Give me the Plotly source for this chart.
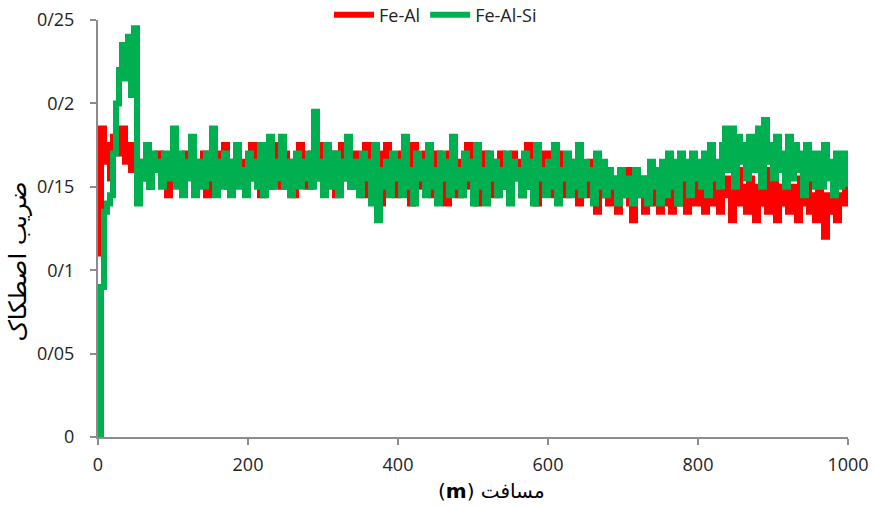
import plotly.graph_objects as go

# Sliding distance (m), sampled every 4 m
distance = [i * 4 for i in range(251)]

# Friction coefficient, Fe-Al
fe_al = [
    0.11, 0.185, 0.165, 0.175, 0.155, 0.18, 0.185, 0.17, 0.185, 0.165,
    0.175, 0.16, 0.175, 0.15, 0.165, 0.155, 0.17, 0.15, 0.165, 0.16,
    0.17, 0.155, 0.165, 0.145, 0.16, 0.175, 0.155, 0.165, 0.15, 0.17,
    0.16, 0.175, 0.15, 0.165, 0.155, 0.17, 0.145, 0.16, 0.165, 0.155,
    0.17, 0.16, 0.175, 0.15, 0.165, 0.16, 0.175, 0.155, 0.165, 0.15,
    0.16, 0.175, 0.155, 0.165, 0.145, 0.17, 0.16, 0.15, 0.175, 0.16,
    0.165, 0.15, 0.17, 0.155, 0.165, 0.145, 0.16, 0.175, 0.155, 0.165,
    0.15, 0.17, 0.16, 0.155, 0.175, 0.15, 0.165, 0.155, 0.17, 0.145,
    0.16, 0.175, 0.155, 0.165, 0.15, 0.17, 0.155, 0.165, 0.145, 0.175,
    0.155, 0.165, 0.15, 0.17, 0.14, 0.16, 0.175, 0.15, 0.165, 0.145,
    0.16, 0.17, 0.15, 0.165, 0.14, 0.175, 0.155, 0.165, 0.15, 0.17,
    0.155, 0.145, 0.165, 0.17, 0.15, 0.16, 0.14, 0.17, 0.155, 0.165,
    0.145, 0.165, 0.155, 0.175, 0.15, 0.16, 0.14, 0.165, 0.155, 0.17,
    0.15, 0.165, 0.145, 0.16, 0.17, 0.15, 0.16, 0.145, 0.17, 0.155,
    0.165, 0.145, 0.16, 0.175, 0.15, 0.16, 0.14, 0.165, 0.155, 0.17,
    0.15, 0.16, 0.145, 0.17, 0.155, 0.165, 0.145, 0.16, 0.15, 0.165,
    0.14, 0.155, 0.16, 0.145, 0.165, 0.15, 0.135, 0.155, 0.145, 0.16,
    0.14, 0.15, 0.155, 0.135, 0.15, 0.145, 0.16, 0.14, 0.13, 0.15,
    0.145, 0.155, 0.135, 0.15, 0.14, 0.16, 0.145, 0.135, 0.155, 0.14,
    0.15, 0.135, 0.155, 0.145, 0.14, 0.16, 0.135, 0.15, 0.14, 0.155,
    0.14, 0.15, 0.135, 0.16, 0.145, 0.14, 0.155, 0.135, 0.15, 0.145,
    0.155, 0.13, 0.145, 0.16, 0.14, 0.15, 0.135, 0.155, 0.145, 0.13,
    0.15, 0.14, 0.16, 0.135, 0.145, 0.155, 0.13, 0.15, 0.14, 0.16,
    0.135, 0.15, 0.145, 0.13, 0.155, 0.14, 0.16, 0.135, 0.145, 0.13,
    0.15, 0.14, 0.12, 0.145, 0.135, 0.155, 0.13, 0.145, 0.14, 0.15,
    0.145,
]

# Friction coefficient, Fe-Al-Si
fe_al_si = [
    0.0, 0.09, 0.135, 0.14, 0.145, 0.17, 0.2, 0.22, 0.235, 0.215,
    0.24, 0.205, 0.245, 0.14, 0.165, 0.155, 0.175, 0.15, 0.17, 0.16,
    0.165, 0.15, 0.17, 0.155, 0.16, 0.185, 0.15, 0.17, 0.145, 0.165,
    0.155, 0.18, 0.145, 0.165, 0.16, 0.15, 0.17, 0.155, 0.185, 0.145,
    0.165, 0.15, 0.17, 0.16, 0.145, 0.165, 0.175, 0.15, 0.16, 0.145,
    0.17, 0.155, 0.165, 0.15, 0.175, 0.145, 0.16, 0.18, 0.15, 0.165,
    0.155, 0.18, 0.15, 0.165, 0.145, 0.16, 0.17, 0.15, 0.165, 0.155,
    0.17, 0.15, 0.195, 0.155, 0.165, 0.145, 0.175, 0.15, 0.16, 0.17,
    0.145, 0.165, 0.155, 0.18, 0.15, 0.165, 0.16, 0.145, 0.17, 0.155,
    0.165, 0.14, 0.175, 0.13, 0.16, 0.15, 0.165, 0.145, 0.17, 0.155,
    0.165, 0.145, 0.18, 0.15, 0.16, 0.14, 0.17, 0.155, 0.165, 0.145,
    0.175, 0.15, 0.16, 0.14, 0.17, 0.155, 0.165, 0.145, 0.18, 0.15,
    0.16, 0.145, 0.17, 0.155, 0.165, 0.14, 0.175, 0.15, 0.16, 0.14,
    0.17, 0.155, 0.165, 0.145, 0.16, 0.15, 0.17, 0.14, 0.165, 0.155,
    0.16, 0.145, 0.17, 0.15, 0.165, 0.14, 0.175, 0.155, 0.16, 0.145,
    0.165, 0.15, 0.175, 0.14, 0.16, 0.155, 0.17, 0.145, 0.165, 0.15,
    0.175, 0.145, 0.165, 0.155, 0.16, 0.14, 0.17, 0.15, 0.165, 0.145,
    0.16, 0.15, 0.155, 0.14, 0.16, 0.15, 0.145, 0.155, 0.14, 0.16,
    0.15, 0.145, 0.155, 0.14, 0.165, 0.15, 0.16, 0.14, 0.165, 0.145,
    0.17, 0.15, 0.165, 0.14, 0.17, 0.155, 0.165, 0.145, 0.17, 0.155,
    0.165, 0.15, 0.17, 0.145, 0.175, 0.155, 0.165, 0.15, 0.175, 0.185,
    0.16, 0.185, 0.15, 0.18, 0.165, 0.175, 0.155, 0.18, 0.16, 0.17,
    0.185, 0.15, 0.19, 0.165, 0.175, 0.155, 0.18, 0.16, 0.17, 0.15,
    0.18, 0.155, 0.175, 0.16, 0.17, 0.145, 0.175, 0.155, 0.17, 0.15,
    0.17, 0.15, 0.175, 0.155, 0.165, 0.145, 0.17, 0.15, 0.165, 0.17,
    0.15,
]

y_ticks = [0, 0.05, 0.1, 0.15, 0.2, 0.25]
y_tick_labels = ["0", "0/05", "0/1", "0/15", "0/2", "0/25"]
x_ticks = [0, 200, 400, 600, 800, 1000]

font_family = "Open Sans, DejaVu Sans, sans-serif"

fig = go.Figure()
fig.add_trace(go.Scatter(
    x=distance, y=fe_al, name="Fe-Al", mode="lines",
    line=dict(color="#FF0000", width=6, shape="hv"),
))
fig.add_trace(go.Scatter(
    x=distance, y=fe_al_si, name="Fe-Al-Si", mode="lines",
    line=dict(color="#00B050", width=6, shape="hv"),
))

axis_common = dict(
    showgrid=False, zeroline=False, showline=True,
    linecolor="#8C8C8C", linewidth=2,
    ticks="outside", ticklen=6, tickwidth=2, tickcolor="#8C8C8C",
    tickfont=dict(family=font_family, size=18, color="#222"),
)

fig.update_xaxes(range=[0, 1000], tickvals=x_ticks, ticklabelstandoff=4,
                 **axis_common)
fig.update_yaxes(range=[0, 0.25], tickvals=y_ticks, ticktext=y_tick_labels,
                 ticklabelstandoff=12, **axis_common)

fig.update_layout(
    width=874, height=506,
    margin=dict(l=98, r=26, t=20, b=69, autoexpand=False),
    paper_bgcolor="white", plot_bgcolor="white",
    showlegend=True,
    legend=dict(orientation="h", x=0.45, xanchor="center", y=1.012,
                yanchor="middle", bgcolor="rgba(0,0,0,0)",
                font=dict(family=font_family, size=18, color="#222"),
                itemwidth=40),
    annotations=[
        dict(text="ضریب اصطکاک", textangle=-90, xref="paper", yref="paper",
             x=-0.107, y=0.42, xanchor="center", yanchor="middle",
             showarrow=False,
             font=dict(family="DejaVu Sans, sans-serif", size=24, color="black")),
        dict(text="(<b>m</b>) مسافت", xref="paper", yref="paper",
             x=0.525, y=-0.13, xanchor="center", yanchor="middle",
             showarrow=False,
             font=dict(family="DejaVu Sans, sans-serif", size=20, color="black")),
    ],
)

fig.write_html("out.html")
